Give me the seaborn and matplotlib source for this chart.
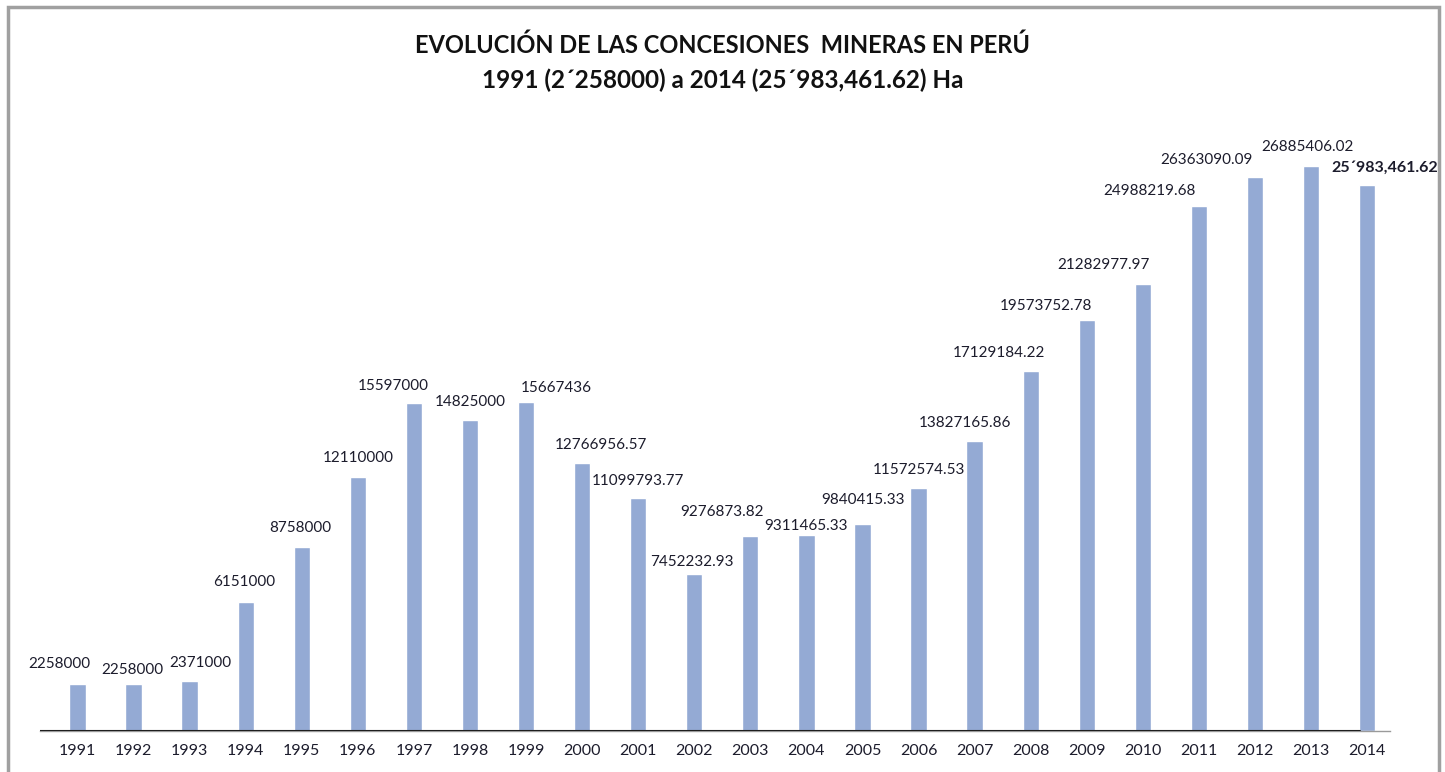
import matplotlib.pyplot as plt
import matplotlib.patches as patches
import seaborn as sns

years = ['1991', '1992', '1993', '1994', '1995', '1996', '1997', '1998', '1999', '2000',
         '2001', '2002', '2003', '2004', '2005', '2006', '2007', '2008', '2009', '2010',
         '2011', '2012', '2013', '2014']
hectares = [2258000, 2258000, 2371000, 6151000, 8758000, 12110000, 15597000, 14825000,
            15667436, 12766956.57, 11099793.77, 7452232.93, 9276873.82, 9311465.33,
            9840415.33, 11572574.53, 13827165.86, 17129184.22, 19573752.78, 21282977.97,
            24988219.68, 26363090.09, 26885406.02, 25983461.62]
labels = ['2258000', '2258000', '2371000', '6151000', '8758000', '12110000', '15597000',
          '14825000', '15667436', '12766956.57', '11099793.77', '7452232.93', '9276873.82',
          '9311465.33', '9840415.33', '11572574.53', '13827165.86', '17129184.22',
          '19573752.78', '21282977.97', '24988219.68', '26363090.09', '26885406.02',
          '25´983,461.62']

# hand-placed label nudges (pixels) as in the original chart
nudges = [(-18, 20), (-1, 14), (11, 18), (-1, 20), (-1, 19), (0, 19), (-21, 17), (0, 18),
          (30, 14), (19, 18), (0, 17), (-2, 12), (-28, 24), (0, 9), (1, 24), (0, 18),
          (-10, 18), (-32, 18), (-41, 14), (-39, 19), (-49, 15), (-48, 17), (-4, 19), (18, 17)]

sns.set_style("white")
plt.rcParams['font.family'] = ['Lato', 'DejaVu Sans']

fig = plt.figure(figsize=(14.45, 7.72), dpi=100)
ax = fig.add_axes([0.028, 0.0531, 0.934, 0.762])

sns.barplot(x=years, y=hectares, color='#94aad4', width=0.29, saturation=1, ax=ax)

for i, (v, lab) in enumerate(zip(hectares, labels)):
    last = i == len(hectares) - 1
    dx, dy = nudges[i]
    ax.annotate(lab, (i, v), xytext=(dx, dy), textcoords='offset pixels',
                ha='center', va='center', fontsize=11.5 if last else 11, color='#1c1c2c',
                fontweight='bold' if last else 'normal', annotation_clip=False)

ax.set_xlim(-0.66, 23.41)
ax.set_ylim(0, 28000000)
ax.set_yticks([])
ax.set_xlabel('')
ax.set_ylabel('')
ax.tick_params(axis='x', length=0, pad=9, labelsize=11.5, labelcolor='#1c1c2c')
for s in ['top', 'right', 'left']:
    ax.spines[s].set_visible(False)
ax.spines['bottom'].set_color('#9a9a9a')
ax.spines['bottom'].set_linewidth(1.0)
ax.axhline(0, xmin=0, xmax=0.978, color='black', linewidth=1.5)

fig.text(0.5, 0.942, 'EVOLUCIÓN DE LAS CONCESIONES  MINERAS EN PERÚ', ha='center', va='center',
         fontsize=17, fontweight='bold', color='#111111')
fig.text(0.5, 0.896, '1991 (2´258000) a 2014 (25´983,461.62) Ha', ha='center', va='center',
         fontsize=17.5, fontweight='bold', color='#111111')

border = patches.Rectangle((8 / 1445, -0.05), 1431 / 1445, 1 - 7 / 772 + 0.05,
                           transform=fig.transFigure, fill=False, edgecolor='#a0a0a0',
                           linewidth=2.5, clip_on=False)
fig.patches.append(border)

fig.savefig('out.png', dpi=100)
